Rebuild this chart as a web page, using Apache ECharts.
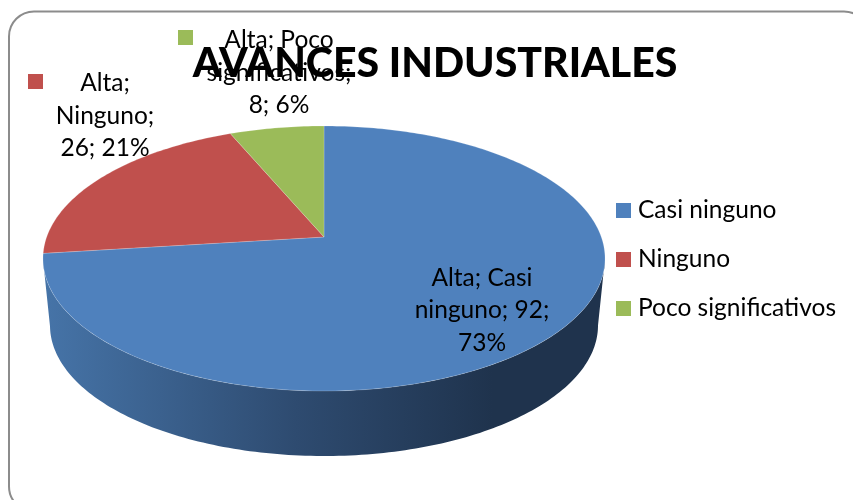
<!DOCTYPE html>
<html>
<head>
<meta charset="utf-8">
<title>Avances industriales</title>
<script src="https://cdn.jsdelivr.net/npm/echarts@6/dist/echarts.min.js"></script>
<style>
  html, body { margin: 0; padding: 0; background: #fff; }
  #chart { width: 853px; height: 500px; }
</style>
</head>
<body>
<div id="chart"></div>
<script>
var chartTitle = 'AVANCES INDUSTRIALES'
var categories = ['Casi ninguno', 'Ninguno', 'Poco significativos']
var values = [92, 26, 8]
var sliceLabels = ['Alta; Casi\nninguno; 92;\n73%', 'Alta;\nNinguno;\n26; 21%', 'Alta; Poco\nsignificativos;\n8; 6%']
var colors = ['#4F81BD', '#C0504D', '#9BBB59']

// label centres + legend key squares, one per slice
var labelPos = [[482, 310.5], [105, 116], [279, 73]]
var keyPos = [null, [28, 74], [178, 30]]

// perspective of the tilted disc
var CX = 324, CY = 237, RX = 277.3, A = -90.55, C = 0.1623
var total = values.reduce(function (a, b) { return a + b }, 0)

function project(deg) {
  var t = deg * Math.PI / 180
  var w = 1 + C * Math.cos(t)
  return [CX + RX * Math.sin(t) / w, (A * Math.cos(t) + CY) / w]
}
// bottom edge of the wall
function lower(p) {
  return [CX + (p[0] - CX) * 0.975, 325 + (p[1] - 258) * 0.985]
}

var sideL = 180 + Math.acos(C) * 180 / Math.PI
var sideR = 180 - Math.acos(C) * 180 / Math.PI

var wallColor = {
  type: 'linear', x: 43, y: 0, x2: 605, y2: 0, global: true,
  colorStops: [
    { offset: 0, color: '#4674a8' },
    { offset: 0.45, color: '#2e4b70' },
    { offset: 0.8, color: '#1f334d' },
    { offset: 1, color: '#1f334d' }
  ]
}

function makeRender(index) {
  return function (params, api) {
    var before = 0
    for (var i = 0; i < index; i++) before += values[i]
    var start = before / total * 360
    var end = (before + api.value(0)) / total * 360
    var children = []

    // side wall, only the part facing us
    var from = Math.max(start, sideR), to = Math.min(end, sideL)
    if (to > from) {
      var topEdge = [], lowEdge = []
      for (var d = from; d <= to; d += 1) {
        topEdge.push(project(d))
        lowEdge.unshift(lower(project(d)))
      }
      children.push({
        type: 'polygon',
        shape: { points: topEdge.concat(lowEdge) },
        style: { fill: wallColor }
      })
    }

    // top face
    var pts = [[CX, CY]]
    for (var a = start; a < end; a += 1) pts.push(project(a))
    pts.push(project(end))
    children.push({
      type: 'polygon',
      shape: { points: pts },
      style: { fill: colors[index], stroke: 'rgba(255,255,255,0.3)', lineWidth: 0.6 }
    })

    // data label
    children.push({
      type: 'text',
      x: labelPos[index][0],
      y: labelPos[index][1],
      style: {
        text: sliceLabels[index],
        fill: '#000',
        font: '24.5px Lato',
        lineHeight: 32.5,
        align: 'center',
        verticalAlign: 'middle'
      }
    })
    if (keyPos[index]) {
      children.push({
        type: 'rect',
        shape: { x: keyPos[index][0], y: keyPos[index][1], width: 15, height: 15 },
        style: { fill: colors[index] }
      })
    }
    return { type: 'group', children: children }
  }
}

var myChart = echarts.init(document.getElementById('chart'))
myChart.setOption({
  animation: false,
  color: colors,
  title: {
    text: chartTitle,
    left: 430,
    top: 38,
    textAlign: 'center',
    textStyle: { fontFamily: 'Lato', fontWeight: 900, fontSize: 41, color: '#000' }
  },
  legend: {
    orient: 'vertical',
    left: 611,
    top: 193,
    data: categories,
    icon: 'rect',
    itemWidth: 15,
    itemHeight: 15,
    itemGap: 24,
    textStyle: { fontFamily: 'Lato', fontSize: 24.5, color: '#000', padding: [0, 0, 0, 2] }
  },
  graphic: [{
    type: 'rect',
    z: -1,
    shape: { x: 9, y: 11.5, width: 860, height: 500, r: 25 },
    style: { fill: '#fff', stroke: '#8c8c8c', lineWidth: 2 }
  }],
  series: categories.map(function (name, i) {
    return {
      name: name,
      type: 'custom',
      coordinateSystem: 'none',
      renderItem: makeRender(i),
      data: [[values[i]]]
    }
  })
})
</script>
</body>
</html>
